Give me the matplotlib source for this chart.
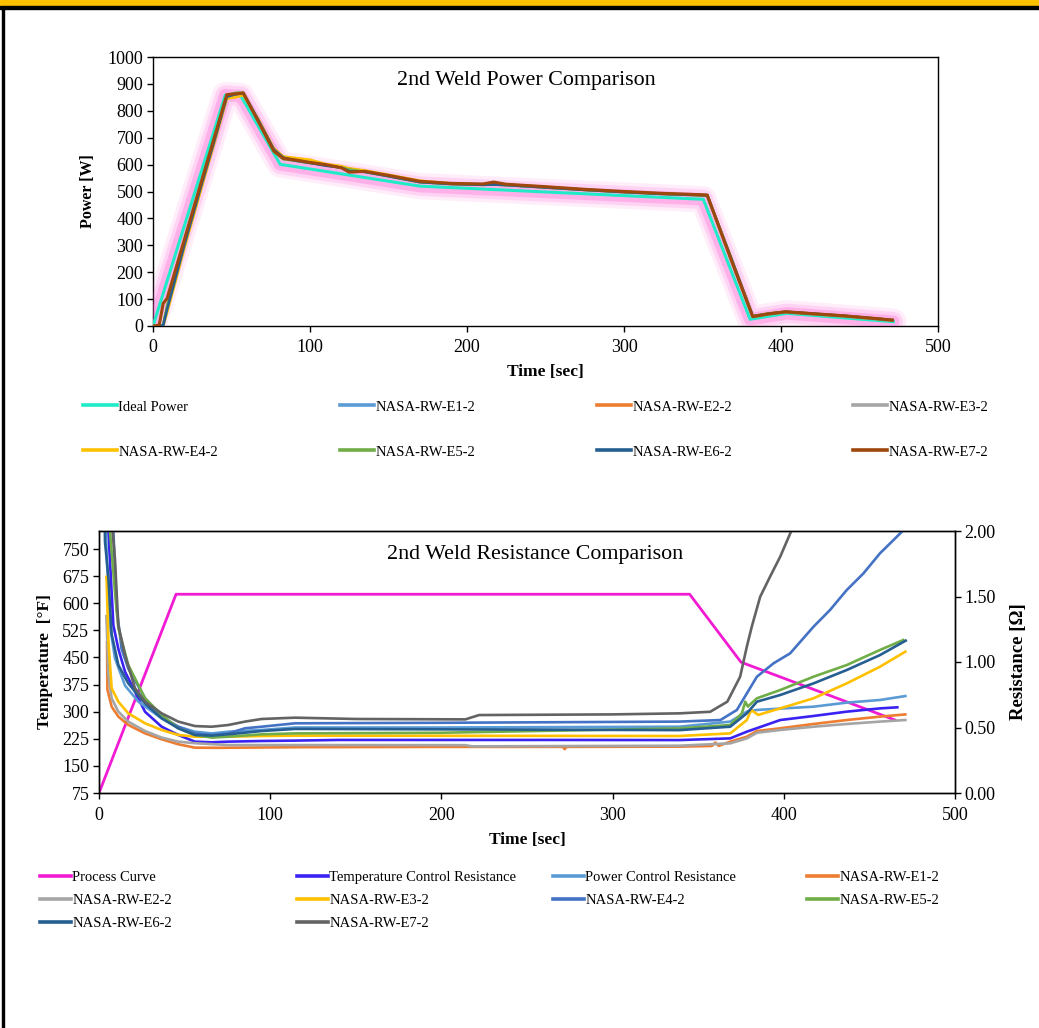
import matplotlib
matplotlib.use("Agg")
import matplotlib.pyplot as plt
import matplotlib.patheffects as pe
from matplotlib.lines import Line2D
from matplotlib.patches import Rectangle

plt.rcParams['font.family'] = ['Liberation Serif', 'DejaVu Serif']
plt.rcParams['mathtext.fontset'] = 'stix'

# ---------------- Power comparison data ----------------
ideal_time = [0, 46, 56, 81, 170, 350.5, 380.3, 403.6, 471.5]
ideal_power = [0, 858, 855, 601, 520, 471, 25, 47, 16]

power_time = [0, 1.5, 4, 6.5, 9, 20, 30, 40, 47, 52, 57.5, 67, 77, 83, 90, 100, 110, 120, 125,
              135, 150, 170, 190, 210, 217, 225, 250, 275, 300, 325, 340, 353, 368, 382, 392,
              403, 420, 440, 460, 471]
power_e1 = [0, 0, 0, 2, 60, 300, 505, 705, 850, 860, 864, 765, 655, 625, 615, 606, 598, 590, 585,
            574, 558, 536, 529, 526, 527, 525, 516, 507, 499, 492, 489, 486, 255, 36, 46, 52, 45, 37, 27, 21]
power_e2 = [0, 0, 0, 3, 65, 305, 510, 712, 855, 858, 865, 762, 652, 624, 616, 607, 599, 589, 583,
            573, 557, 535, 528, 525, 526, 524, 515, 506, 498, 491, 488, 485, 252, 34, 44, 51, 44, 36, 26, 20]
power_e3 = [0, 0, 0, 4, 70, 310, 512, 714, 856, 860, 864, 763, 653, 624, 617, 607, 600, 590, 584,
            574, 558, 536, 529, 526, 527, 525, 516, 507, 499, 492, 489, 486, 253, 35, 45, 52, 45, 37, 27, 21]
power_e4 = [0, 0, 0, 0, 50, 290, 495, 700, 845, 850, 858, 770, 660, 630, 625, 618, 602, 594, 586,
            578, 562, 540, 530, 526, 528, 526, 517, 507, 499, 492, 489, 486, 258, 37, 47, 53, 46, 38, 28, 22]
power_e5 = [0, 0, 0, 5, 75, 312, 515, 716, 858, 866, 868, 765, 648, 620, 615, 606, 598, 588, 582,
            573, 557, 535, 528, 525, 526, 524, 515, 506, 498, 491, 488, 485, 252, 34, 44, 52, 45, 37, 27, 21]
power_e6 = [0, 0, 0, 2, 62, 302, 507, 708, 852, 861, 865, 766, 656, 626, 616, 607, 596, 589, 575,
            573, 557, 535, 528, 525, 526, 524, 515, 506, 498, 491, 488, 486, 256, 36, 46, 53, 46, 38, 28, 22]
power_e7 = [0, 0, 5, 84, 103, 322, 521, 720, 860, 863, 866, 761, 650, 623, 618, 608, 600, 588, 572,
            575, 560, 538, 530, 528, 535, 527, 518, 508, 500, 493, 490, 487, 250, 35, 45, 53, 46, 38, 28, 22]

power_labels = ['Ideal Power', 'NASA-RW-E1-2', 'NASA-RW-E2-2', 'NASA-RW-E3-2',
                'NASA-RW-E4-2', 'NASA-RW-E5-2', 'NASA-RW-E6-2', 'NASA-RW-E7-2']
power_colors = ['#1FEBC8', '#5B9BD5', '#ED7D31', '#A5A5A5', '#FFC000', '#70AD47', '#255E91', '#9E480E']

# ---------------- Resistance comparison data ----------------
proc_time = [0, 45, 345, 375, 465]
proc_temp = [75, 625, 625, 437, 277]

tc_time = [3.0, 5.5, 8.4, 11.3, 15.2, 21, 26.9, 36.6, 46.3, 56, 65.8, 75.5, 95, 114.5, 140, 200,
           260, 339, 368.7, 378.4, 397.9, 417.4, 436.8, 456.2, 466.3]
tc_ohm = [2.6, 2.0, 1.28, 1.10, 0.926, 0.774, 0.62, 0.506, 0.443, 0.392, 0.387, 0.392, 0.397, 0.400,
          0.405, 0.405, 0.405, 0.404, 0.417, 0.468, 0.557, 0.588, 0.621, 0.646, 0.654]

pc_time = [2.5, 3.9, 6.4, 9.3, 15.2, 23, 36.6, 46.3, 56, 65.8, 75.5, 95, 114.5, 200, 339, 368.7,
           378.4, 384.3, 417.4, 436.8, 456.2, 471]
pc_ohm = [2.6, 2.0, 1.28, 1.03, 0.82, 0.697, 0.57, 0.506, 0.468, 0.455, 0.468, 0.481, 0.50, 0.50,
          0.506, 0.545, 0.621, 0.634, 0.659, 0.69, 0.71, 0.74]

e1_time = [4.7, 4.9, 7.4, 11.3, 17.1, 26.9, 36.6, 46.3, 56, 70, 120, 200, 271, 272, 273, 339, 358,
           360, 362, 368.7, 378.4, 384.3, 397.9, 417.4, 436.8, 456.2, 471]
e1_ohm = [1.15, 0.79, 0.659, 0.583, 0.52, 0.455, 0.41, 0.372, 0.346, 0.345, 0.350, 0.352, 0.352,
          0.335, 0.352, 0.354, 0.359, 0.385, 0.36, 0.392, 0.43, 0.473, 0.494, 0.527, 0.557, 0.583, 0.60]

e2_time = [4.3, 4.5, 5.5, 7.4, 11.3, 17.1, 26.9, 36.6, 46.3, 56, 75.5, 114.5, 214, 218, 339, 368.7,
           378.4, 384.3, 397.9, 417.4, 436.8, 456.2, 471]
e2_ohm = [1.35, 1.28, 0.90, 0.723, 0.621, 0.545, 0.473, 0.423, 0.392, 0.38, 0.366, 0.366, 0.365,
          0.356, 0.361, 0.379, 0.417, 0.46, 0.481, 0.506, 0.527, 0.545, 0.557]

e3_time = [4.3, 4.5, 5.5, 7.4, 11.3, 17.1, 26.9, 36.6, 46.3, 56, 75.5, 95, 114.5, 339, 368.7, 378.4,
           381, 385, 397.9, 417.4, 436.8, 456.2, 471]
e3_ohm = [1.65, 1.613, 1.155, 0.80, 0.697, 0.608, 0.532, 0.481, 0.443, 0.43, 0.43, 0.435, 0.438,
          0.435, 0.455, 0.557, 0.634, 0.596, 0.646, 0.723, 0.837, 0.964, 1.079]

e4_time = [6.0, 8.4, 10.3, 13.2, 17.1, 26.9, 36.6, 46.3, 56, 65.8, 75.5, 85.3, 95, 114.5, 200, 339,
           363, 372.6, 378.4, 384.3, 394, 403.7, 417.4, 427, 436.8, 446.5, 456.2, 464, 469, 472]
e4_ohm = [2.6, 2.0, 1.41, 1.10, 0.95, 0.723, 0.583, 0.506, 0.455, 0.443, 0.455, 0.494, 0.506, 0.532,
          0.536, 0.545, 0.557, 0.634, 0.76, 0.888, 0.99, 1.066, 1.27, 1.397, 1.55, 1.676, 1.83, 1.93,
          1.995, 2.04]

e5_time = [5.0, 6.4, 9.3, 11.3, 17.1, 26.9, 36.6, 46.3, 56, 65.8, 75.5, 95, 114.5, 200, 339, 368.7,
           375.5, 377.5, 379, 384.3, 397.9, 417.4, 436.8, 456.2, 469.8]
e5_ohm = [2.6, 2.0, 1.537, 1.257, 0.977, 0.723, 0.596, 0.494, 0.443, 0.423, 0.43, 0.448, 0.455, 0.46,
          0.493, 0.519, 0.608, 0.697, 0.66, 0.723, 0.786, 0.888, 0.977, 1.092, 1.168]

e6_time = [3.0, 3.5, 5.5, 7.4, 11.3, 17.1, 26.9, 36.6, 46.3, 56, 65.8, 75.5, 95, 114.5, 200, 339,
           368.7, 378.4, 384.3, 397.9, 417.4, 436.8, 456.2, 471.2]
e6_ohm = [2.6, 1.92, 1.64, 1.21, 0.977, 0.837, 0.684, 0.57, 0.494, 0.443, 0.438, 0.448, 0.473, 0.489,
          0.486, 0.48, 0.506, 0.608, 0.697, 0.748, 0.837, 0.939, 1.053, 1.163]

e7_time = [4.0, 9.3, 11.3, 15.2, 21, 26.9, 36.6, 46.3, 56, 65.8, 75.5, 85.3, 95, 114.5, 150, 214,
           222, 300, 339, 357, 367, 374.5, 378.4, 381.3, 386.2, 392, 397.9, 403.7, 408]
e7_ohm = [2.6, 1.79, 1.28, 1.053, 0.80, 0.697, 0.608, 0.545, 0.511, 0.506, 0.519, 0.545, 0.565, 0.575,
          0.565, 0.562, 0.595, 0.60, 0.608, 0.62, 0.697, 0.888, 1.117, 1.27, 1.498, 1.652, 1.804, 1.98, 2.1]

res_labels = ['Process Curve', 'Temperature Control Resistance', 'Power Control Resistance',
              'NASA-RW-E1-2', 'NASA-RW-E2-2', 'NASA-RW-E3-2', 'NASA-RW-E4-2', 'NASA-RW-E5-2',
              'NASA-RW-E6-2', 'NASA-RW-E7-2']
res_colors = ['#F21BD4', '#3A22F2', '#5B9BD5', '#ED7D31', '#A5A5A5', '#FFC000', '#4472C4',
              '#70AD47', '#255E91', '#636363']

W, H = 1039, 1028
fig = plt.figure(figsize=(W / 100, H / 100), dpi=100)


def fx(px):
    return px / W


def fy(py):
    return 1 - py / H


# page decorations
fig.patches.append(Rectangle((0, fy(6)), 1, 6 / H, transform=fig.transFigure, color='#FFC000', zorder=0))
fig.patches.append(Rectangle((0, fy(9)), 1, 3 / H, transform=fig.transFigure, color='black', zorder=0))
fig.patches.append(Rectangle((fx(2), 0), 2 / W, fy(9), transform=fig.transFigure, color='black', zorder=0))

TICK = 13
LEG = 10.5

# ---------------- top chart ----------------
ax1 = fig.add_axes([fx(153), fy(326), fx(938 - 153), (326 - 57) / H])
glow = [pe.Stroke(linewidth=19, foreground='#FF4FD0', alpha=0.10, capstyle='round', joinstyle='round'),
        pe.Stroke(linewidth=14, foreground='#FF4FD0', alpha=0.16, capstyle='round', joinstyle='round'),
        pe.Stroke(linewidth=9, foreground='#FF4FD0', alpha=0.26, capstyle='round', joinstyle='round'),
        pe.Normal()]
ax1.plot(ideal_time, ideal_power, color=power_colors[0], lw=2.2, zorder=3,
         path_effects=glow)
series = [power_e1, power_e2, power_e3, power_e4, power_e5, power_e6, power_e7]
ph = [Line2D([], [], color=power_colors[0], lw=2.6)]
for i, s in enumerate(series):
    ax1.plot(power_time, s, color=power_colors[i + 1], lw=1.9 if i < 6 else 2.2, zorder=4 + i)
    ph.append(Line2D([], [], color=power_colors[i + 1], lw=2.6))
ax1.set_xlim(0, 500)
ax1.set_ylim(0, 1000)
ax1.set_xticks(range(0, 501, 100))
ax1.set_yticks(range(0, 1001, 100))
ax1.tick_params(axis='x', direction='out', length=4, width=1, labelsize=TICK, pad=5)
ax1.tick_params(axis='y', direction='out', length=4, width=1, labelsize=TICK, pad=3)
for sp in ax1.spines.values():
    sp.set_linewidth(1)
ax1.set_xlabel('Time [sec]', fontsize=12.5, fontweight='bold', labelpad=6)
ax1.set_ylabel('Power [W]', fontsize=11.5, fontweight='bold', labelpad=8)
ax1.text(0.476, 0.911, '2nd Weld Power Comparison', transform=ax1.transAxes,
         ha='center', va='center', fontsize=15.8)

top_cols = [83, 340, 597, 853]
top_rows = [407, 452]
for k, (h, lab) in enumerate(zip(ph, power_labels)):
    r, c = divmod(k, 4)
    fig.legend(handles=[h], labels=[lab], loc='center left',
               bbox_to_anchor=(fx(top_cols[c]), fy(top_rows[r])), frameon=False,
               borderpad=0, borderaxespad=0, handlelength=2.3, handletextpad=0.12,
               fontsize=LEG)

# ---------------- bottom chart ----------------
ax2 = fig.add_axes([fx(99), fy(793), fx(955 - 99), (793 - 531) / H])
ax3 = ax2.twinx()
ax2.plot(proc_time, proc_temp, color=res_colors[0], lw=2.0)
res_series = [(tc_time, tc_ohm), (pc_time, pc_ohm), (e1_time, e1_ohm), (e2_time, e2_ohm),
              (e3_time, e3_ohm), (e4_time, e4_ohm), (e5_time, e5_ohm), (e6_time, e6_ohm),
              (e7_time, e7_ohm)]
rh = [Line2D([], [], color=res_colors[0], lw=2.6)]
for i, (t, v) in enumerate(res_series):
    ax3.plot(t, v, color=res_colors[i + 1], lw=1.9)
    rh.append(Line2D([], [], color=res_colors[i + 1], lw=2.6))
ax2.set_xlim(0, 500)
ax2.set_ylim(75, 800)
ax2.set_yticks(range(75, 751, 75))
ax2.set_xticks(range(0, 501, 100))
ax3.set_ylim(0, 2.0)
ax3.set_yticks([0, 0.5, 1.0, 1.5, 2.0])
ax3.set_yticklabels(['0.00', '0.50', '1.00', '1.50', '2.00'])
for a in (ax2, ax3):
    a.tick_params(axis='y', direction='out', length=4, width=1, labelsize=TICK, pad=3)
    for sp in a.spines.values():
        sp.set_linewidth(1)
ax2.tick_params(axis='x', direction='out', length=4, width=1, labelsize=TICK, pad=6)
ax2.set_xlabel('Time [sec]', fontsize=12.5, fontweight='bold', labelpad=6)
ax2.set_ylabel('Temperature  [°F]', fontsize=12.5, fontweight='bold', labelpad=7)
ax3.set_ylabel('Resistance [Ω]', fontsize=13.5, fontweight='bold', labelpad=10)
ax3.text(0.509, 0.912, '2nd Weld Resistance Comparison', transform=ax3.transAxes,
         ha='center', va='center', fontsize=15.8)

bot_cols = [40, 297, 553, 807]
bot_rows = [877, 900, 923]
for k, (h, lab) in enumerate(zip(rh, res_labels)):
    r, c = divmod(k, 4)
    fig.legend(handles=[h], labels=[lab], loc='center left',
               bbox_to_anchor=(fx(bot_cols[c]), fy(bot_rows[r])), frameon=False,
               borderpad=0, borderaxespad=0, handlelength=2.1, handletextpad=0.12,
               fontsize=LEG)

fig.savefig('out.png', dpi=100)
